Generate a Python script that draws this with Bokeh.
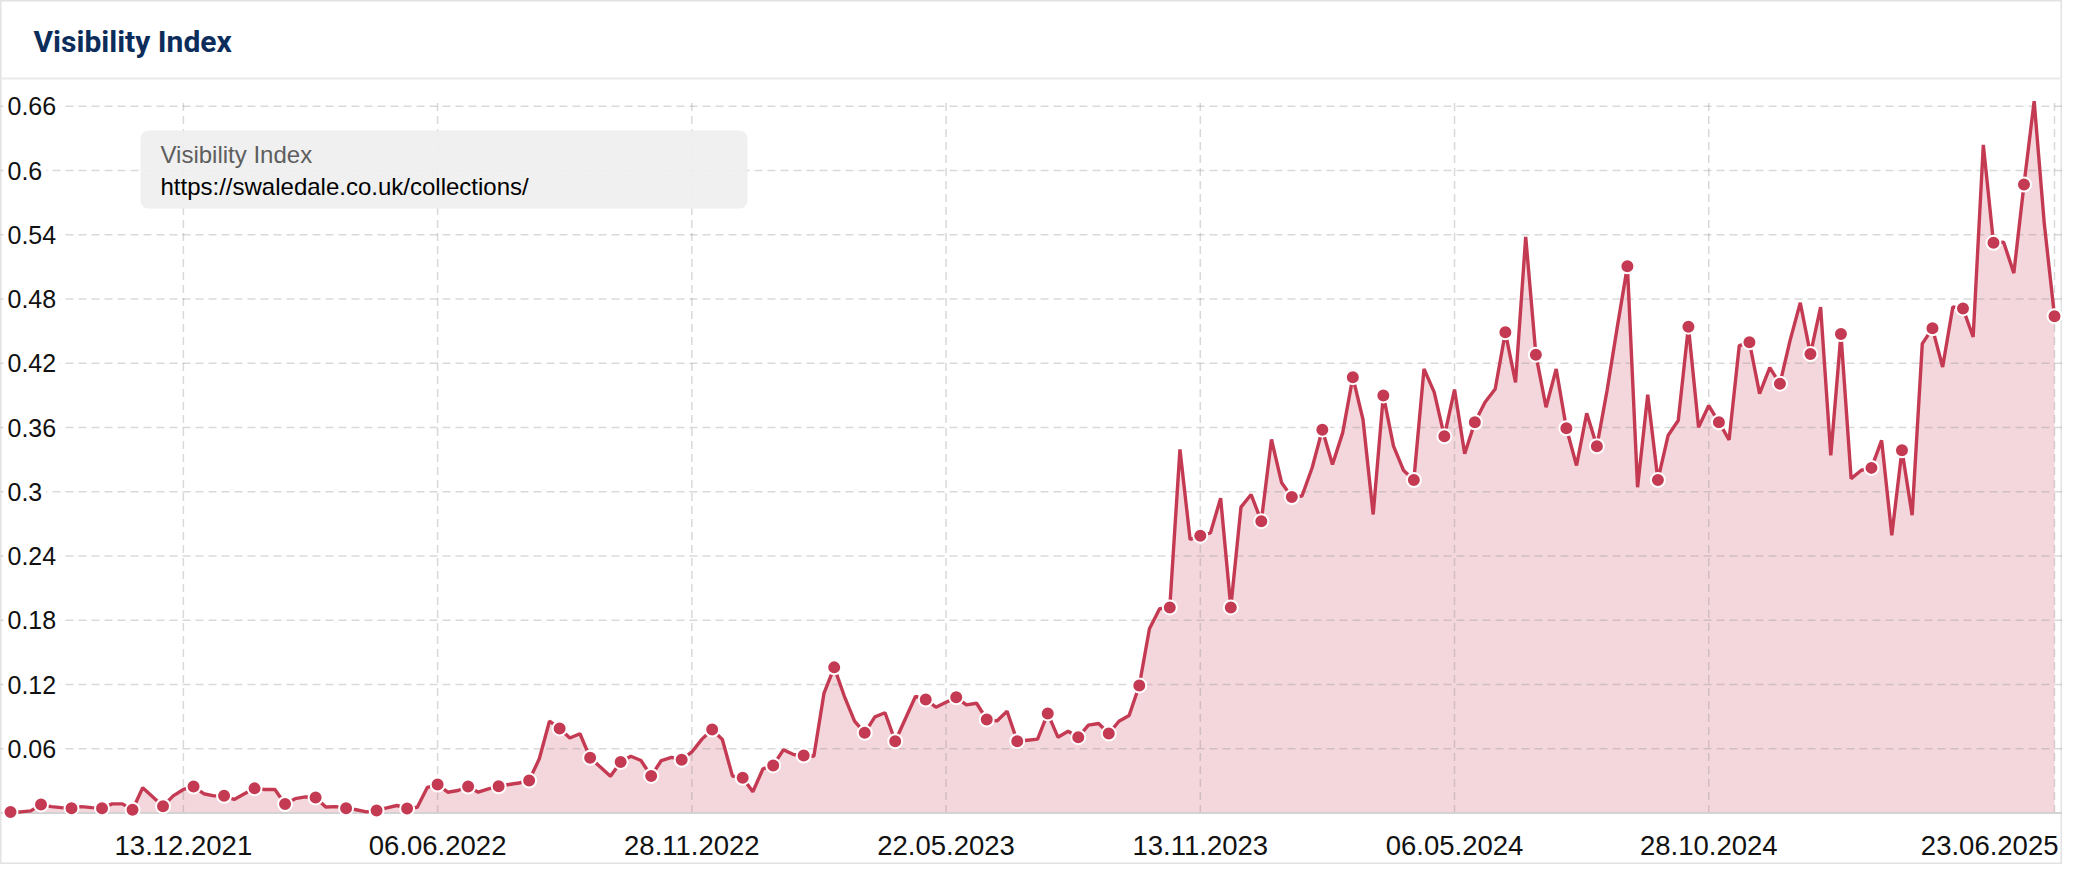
import numpy as np
import pandas as pd
from bokeh.plotting import figure
from bokeh.models import Range1d, Label, BoxAnnotation
from bokeh.embed import file_html
from bokeh.resources import INLINE

# ---------------- data ----------------
title_text = "Visibility Index"
series_name = "Visibility Index"
series_url = "https://swaledale.co.uk/collections/"

start_date = "2021-08-16"   # weekly values, Mondays
visibility = [
    0.001, 0.001, 0.002, 0.008, 0.006, 0.005, 0.0045, 0.006, 0.005, 0.0045,
    0.0085, 0.0085, 0.003, 0.0235, 0.015, 0.0064, 0.016, 0.022, 0.0247, 0.018,
    0.016, 0.016, 0.0126, 0.018, 0.023, 0.022, 0.022, 0.0084, 0.0134, 0.015,
    0.0145, 0.0056, 0.006, 0.0045, 0.003, 0.001, 0.0023, 0.0048, 0.007, 0.0042,
    0.0054, 0.024, 0.0266, 0.0194, 0.021, 0.0247, 0.0194, 0.0225, 0.025, 0.0266,
    0.028, 0.0303, 0.0506, 0.0857, 0.079, 0.070, 0.074, 0.0515, 0.043, 0.0343,
    0.0477, 0.053, 0.049, 0.0346, 0.049, 0.052, 0.0497, 0.057, 0.069, 0.078,
    0.0686, 0.0344, 0.033, 0.0198, 0.0413, 0.0444, 0.059, 0.0546, 0.0537, 0.053,
    0.112, 0.136, 0.109, 0.0857, 0.0749, 0.0898, 0.0936, 0.067, 0.088, 0.109,
    0.106, 0.0988, 0.1035, 0.108, 0.101, 0.1025, 0.0873, 0.086, 0.095, 0.067,
    0.068, 0.069, 0.093, 0.0708, 0.0764, 0.0708, 0.082, 0.0836, 0.0742, 0.0857,
    0.091, 0.119, 0.172, 0.1907, 0.192, 0.3395, 0.2554, 0.259, 0.2617, 0.294,
    0.192, 0.2856, 0.2974, 0.2725, 0.3488, 0.3084, 0.295, 0.296, 0.3224, 0.358,
    0.3255, 0.355, 0.407, 0.3675, 0.2788, 0.390, 0.3426, 0.3198, 0.311, 0.4147,
    0.393, 0.3518, 0.3954, 0.3354, 0.3649, 0.3836, 0.396, 0.4489, 0.4022, 0.538,
    0.428, 0.3789, 0.4147, 0.3593, 0.3245, 0.3733, 0.3425, 0.3945, 0.4535, 0.5105,
    0.3042, 0.3907, 0.311, 0.3525, 0.3665, 0.4542, 0.3602, 0.3805, 0.3649, 0.3484,
    0.4364, 0.4396, 0.3916, 0.4159, 0.4009, 0.4414, 0.4765, 0.4286, 0.4725, 0.334,
    0.4473, 0.3123, 0.3201, 0.3223, 0.348, 0.2594, 0.3387, 0.2781, 0.4383, 0.4526,
    0.4165, 0.4725, 0.4712, 0.4445, 0.6239, 0.5325, 0.5331, 0.5042, 0.5869, 0.6647,
    0.55, 0.464,
]

x_tick_dates = ["2021-12-13", "2022-06-06", "2022-11-28", "2023-05-22",
                "2023-11-13", "2024-05-06", "2024-10-28", "2025-06-23"]
x_tick_labels = ["13.12.2021", "06.06.2022", "28.11.2022", "22.05.2023",
                 "13.11.2023", "06.05.2024", "28.10.2024", "23.06.2025"]
y_ticks = [0.06, 0.12, 0.18, 0.24, 0.30, 0.36, 0.42, 0.48, 0.54, 0.60, 0.66]
y_tick_labels = ["0.06", "0.12", "0.18", "0.24", "0.3", "0.36",
                 "0.42", "0.48", "0.54", "0.6", "0.66"]

# ---------------- layout ----------------
W, H = 2062, 864
X0_PX, X1_PX = 10.0, 2054.0       # first / last data point (px from left)
BASE_PX = 812.5                   # y=0 (px from top)
PX_PER_UNIT = 1070.8
PLOT_TOP_PX = 98.0

LINE_COLOR = "#c53a53"
AREA_COLOR = "#f4d7dc"
TEXT_FONT = "Liberation Sans"

dates = pd.date_range(start_date, periods=len(visibility), freq="7D")
t = dates.values.astype("datetime64[ms]").astype(np.int64).astype(float)
tick_t = pd.to_datetime(x_tick_dates).values.astype("datetime64[ms]").astype(np.int64).astype(float)
vis = np.array(visibility)

ms_per_px = (t[-1] - t[0]) / (X1_PX - X0_PX)
x_start = t[0] - X0_PX * ms_per_px
x_end = x_start + W * ms_per_px
y_start = -(H - BASE_PX) / PX_PER_UNIT
y_end = BASE_PX / PX_PER_UNIT


def fx(px):
    return x_start + px * ms_per_px


def fy(py):
    return (BASE_PX - py) / PX_PER_UNIT


p = figure(width=W, height=H, x_range=Range1d(x_start, x_end), y_range=Range1d(y_start, y_end),
           x_axis_type=None, y_axis_type=None, title=None, min_border=0,
           toolbar_location=None, output_backend="svg")
p.grid.visible = False
p.outline_line_color = "#e2e2e2"
p.outline_line_width = 2
p.background_fill_color = "white"
p.border_fill_color = "white"

# header separator
p.segment(x0=[fx(0)], x1=[fx(W)], y0=[fy(78)], y1=[fy(78)], line_color="#ebebeb", line_width=2)

# area
p.varea(x=t, y1=np.zeros(len(vis)), y2=vis, fill_color=AREA_COLOR)

# grid lines
n = len(y_ticks)
p.segment(x0=[fx(0)] * n, x1=[fx(W)] * n, y0=y_ticks, y1=y_ticks,
          line_color="#8a8a8a", line_alpha=0.32, line_width=1.5, line_dash="8 5")
m = len(tick_t)
p.segment(x0=tick_t, x1=tick_t, y0=[0] * m, y1=[fy(PLOT_TOP_PX)] * m,
          line_color="#8a8a8a", line_alpha=0.32, line_width=1.5, line_dash="8 5")

# x axis line
p.segment(x0=[fx(0)], x1=[fx(W)], y0=[0], y1=[0], line_color="#d3d3d3", line_width=2)

# series
p.line(t, vis, line_color=LINE_COLOR, line_width=3.4)
p.scatter(t[::3], vis[::3], size=14, fill_color=LINE_COLOR, line_color="white", line_width=2)

# y labels
for yv, lab in zip(y_ticks, y_tick_labels):
    p.add_layout(Label(x=fx(3), y=yv, text=lab, text_baseline="middle", text_align="left",
                       text_font=TEXT_FONT, text_font_size="25px", text_color="#111111",
                       background_fill_color="white", padding=4))

# x labels
for i, (tv, lab) in enumerate(zip(tick_t, x_tick_labels)):
    last = i == len(tick_t) - 1
    p.add_layout(Label(x=fx(2058) if last else tv, y=fy(845), text=lab,
                       text_align="right" if last else "center", text_baseline="middle",
                       text_font=TEXT_FONT, text_font_size="27.5px", text_color="#111111"))

# title
p.add_layout(Label(x=fx(33), y=fy(41), text=title_text, text_baseline="middle",
                   text_font="Roboto", text_font_style="bold", text_font_size="30px",
                   text_color="#0c2d5b"))

# legend box
p.add_layout(BoxAnnotation(left=fx(140), right=fx(747), top=fy(130), bottom=fy(208),
                           fill_color="#efefef", fill_alpha=0.92, line_color=None,
                           border_radius=8))
p.add_layout(Label(x=fx(160), y=fy(154), text=series_name, text_baseline="middle",
                   text_font=TEXT_FONT, text_font_size="24px", text_color="#5e5e5e"))
p.add_layout(Label(x=fx(160), y=fy(186), text=series_url, text_baseline="middle",
                   text_font=TEXT_FONT, text_font_size="24px", text_color="#000000"))

open("out.html", "w").write(file_html(p, INLINE))
